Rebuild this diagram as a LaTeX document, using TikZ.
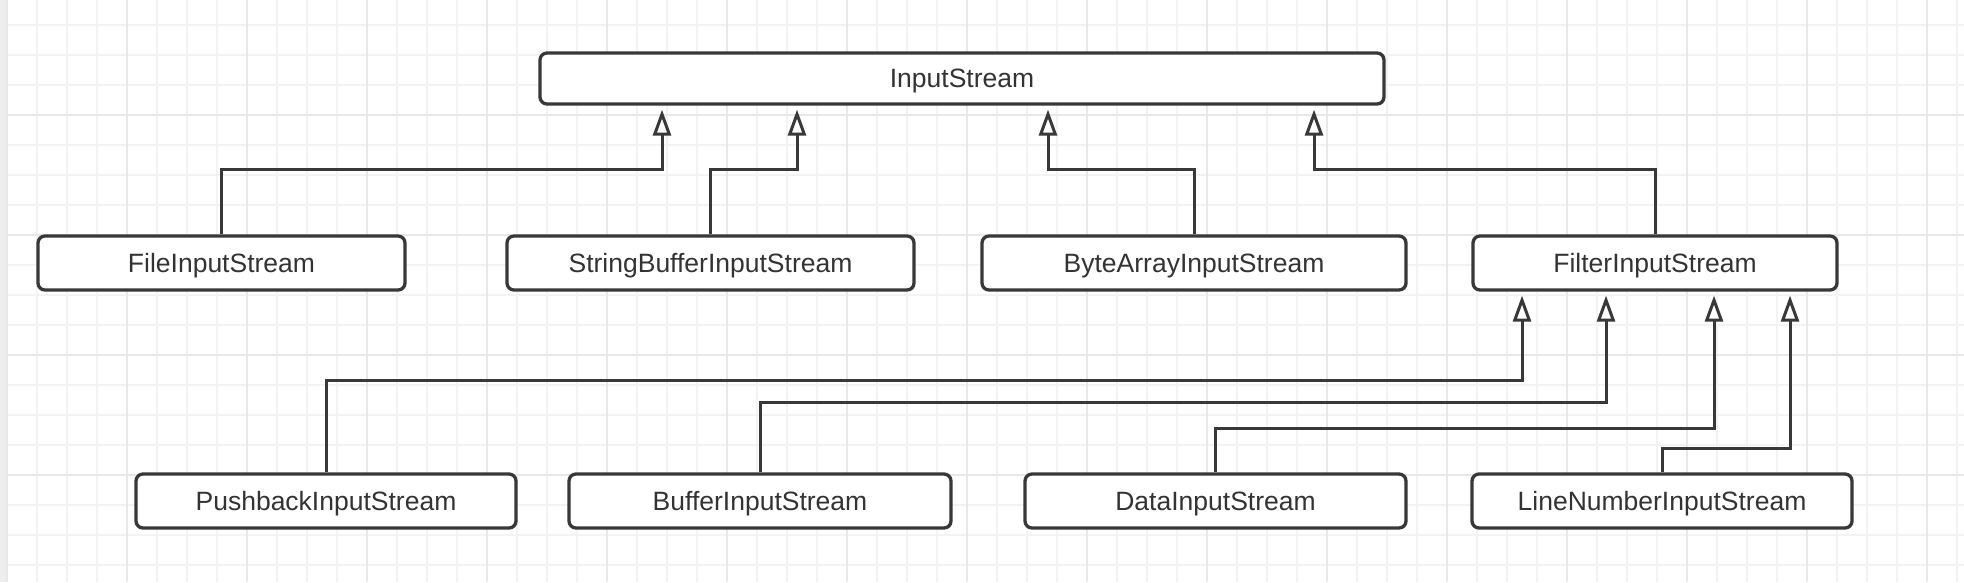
\documentclass[tikz,border=0pt]{standalone}
\usepackage{fontspec}
\setmainfont{Liberation Sans}
\usetikzlibrary{arrows.meta}
\definecolor{ink}{HTML}{383838}
\definecolor{txt}{HTML}{333333}
\definecolor{gridminor}{HTML}{F3F3F3}
\definecolor{gridmajor}{HTML}{E8E8E8}
\definecolor{leftband}{HTML}{EDEDED}
\tikzset{
  cls/.style={draw=ink, line width=3.3pt, rounded corners=7pt, fill=white,
    text=txt, inner sep=0pt, text depth=0pt, font=\fontsize{26.5pt}{30pt}\selectfont},
  inh/.style={draw=ink, line width=3pt,
    -{Triangle[open, length=26pt, width=18pt, fill=white]}, shorten >=4pt}
}
\begin{document}
\begin{tikzpicture}[x=1pt, y=-1pt]
\useasboundingbox (0,0) rectangle (1964,582);
\fill[white] (0,0) rectangle (1964,582);
% grid
\foreach \k in {0,...,65} {\draw[gridminor, line width=1.2pt] (7+30*\k,0) -- (7+30*\k,582);}
\foreach \k in {1,...,19} {\draw[gridminor, line width=1.2pt] (0,-5+30*\k) -- (1964,-5+30*\k);}
\foreach \k in {0,...,16} {\draw[gridmajor, line width=1.4pt] (7+120*\k,0) -- (7+120*\k,582);}
\foreach \k in {1,...,4} {\draw[gridmajor, line width=1.4pt] (0,-5+120*\k) -- (1964,-5+120*\k);}
\fill[leftband] (0,0) rectangle (6,582);
% classes
\node[cls, minimum width=844pt, minimum height=51pt] (is) at (962,78.5) {InputStream};
\node[cls, minimum width=367pt, minimum height=54pt] (file) at (221.5,263) {FileInputStream};
\node[cls, minimum width=407pt, minimum height=54pt] (sb) at (710.5,263) {StringBufferInputStream};
\node[cls, minimum width=424pt, minimum height=54pt] (ba) at (1194,263) {ByteArrayInputStream};
\node[cls, minimum width=364pt, minimum height=54pt] (filter) at (1655,263) {FilterInputStream};
\node[cls, minimum width=380pt, minimum height=54pt] (push) at (326,501) {PushbackInputStream};
\node[cls, minimum width=382pt, minimum height=54pt] (buf) at (760,501) {BufferInputStream};
\node[cls, minimum width=381pt, minimum height=54pt] (data) at (1215.5,501) {DataInputStream};
\node[cls, minimum width=380pt, minimum height=54pt] (ln) at (1662,501) {LineNumberInputStream};
% inheritance connectors
\draw[inh] (file.north) -- ++(0,-65) -| ([xshift=-300pt]is.south);
\draw[inh] (sb.north) -- ++(0,-65) -| ([xshift=-165pt]is.south);
\draw[inh] (ba.north) -- ++(0,-65) -| ([xshift=86pt]is.south);
\draw[inh] (filter.north) -- ++(0,-65) -| ([xshift=352pt]is.south);
\draw[inh] (push.north) -- ++(0,-92) -| ([xshift=-133pt]filter.south);
\draw[inh] (buf.north) -- ++(0,-70) -| ([xshift=-49pt]filter.south);
\draw[inh] (data.north) -- ++(0,-44) -| ([xshift=59pt]filter.south);
\draw[inh] (ln.north) -- ++(0,-24) -| ([xshift=135pt]filter.south);
\end{tikzpicture}
\end{document}
